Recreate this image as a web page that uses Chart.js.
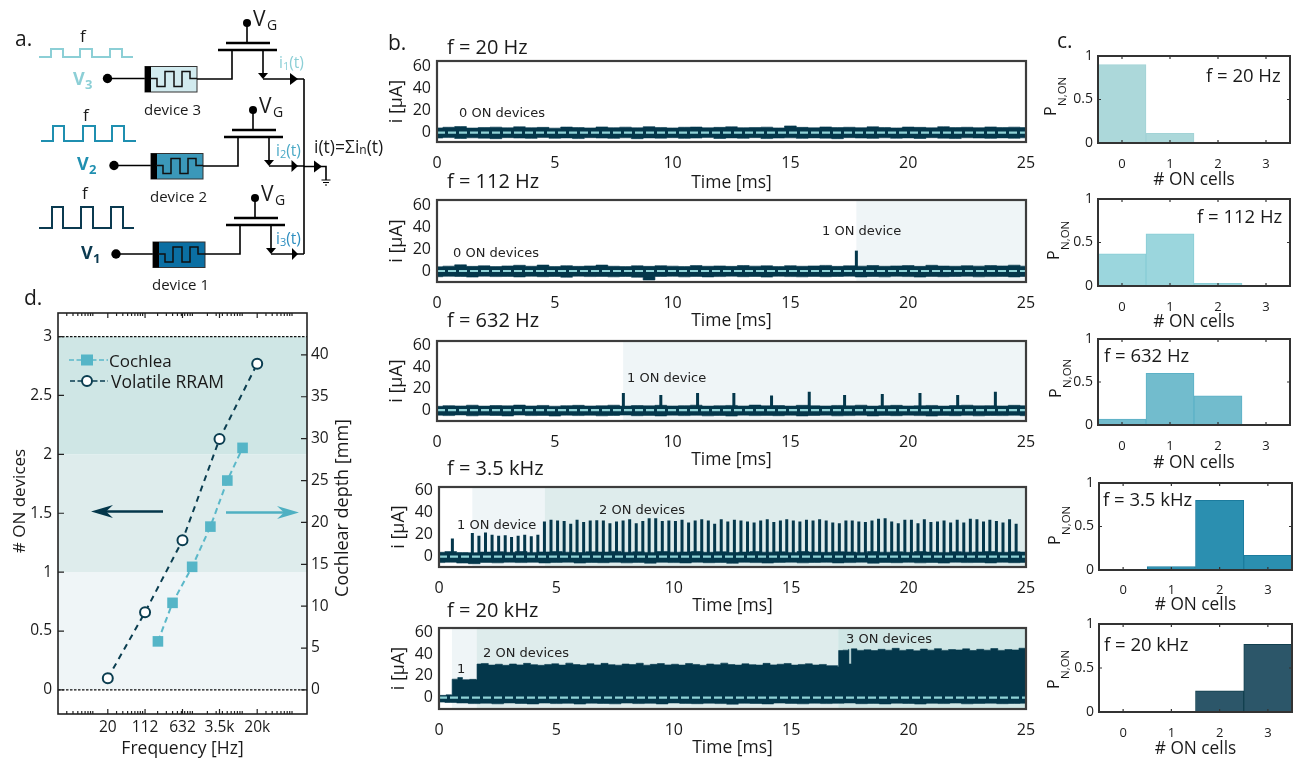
<!DOCTYPE html>
<html><head><meta charset="utf-8">
<script src="https://cdn.jsdelivr.net/npm/chart.js@4"></script>
<style>
html,body{margin:0;padding:0;background:#fff;overflow:hidden}
#page{position:relative;width:1296px;height:758px;overflow:hidden}
canvas{position:absolute}
svg{position:absolute;left:0;top:0;pointer-events:none}
svg text{font-family:"Open Sans",sans-serif;fill:#1a1a1a;dominant-baseline:central}
svg text.note{font-family:"DejaVu Sans",sans-serif;font-size:13px;fill:#222}
</style></head><body><div id="page"><svg id="ov" width="1296" height="758"></svg></div>
<script>
/* ---------- panel b: current traces ---------- */
const noiseTimes=[0,0.5,1,1.5,2,2.5,3,3.5,4,4.5,5,5.5,6,6.5,7,7.5,8,8.5,9,9.5,10,10.5,11,11.5,12,12.5,13,13.5,14,14.5,15,15.5,16,16.5,17,17.5,18,18.5,19,19.5,20,20.5,21,21.5,22,22.5,23,23.5,24,24.5,25];
const up20=[4.2,4.8,5.4,4.1,4.6,4.9,4.3,5.2,4.4,4.7,4.0,5.0,4.5,4.2,5.1,4.4,4.9,4.3,5.3,4.6,4.2,4.8,5.0,4.3,4.7,5.2,4.4,4.6,4.9,4.2,6.0,4.7,4.3,5.1,4.5,4.8,4.4,5.2,4.6,4.2,5.0,4.7,4.3,5.3,4.5,4.8,4.4,5.1,4.6,4.9,4.5];
const lo20=[-5.0,-4.6,-5.4,-4.8,-5.1,-5.6,-4.7,-5.0,-5.3,-4.6,-5.2,-4.9,-5.5,-4.7,-5.0,-5.3,-4.8,-5.6,-4.9,-5.1,-4.7,-5.3,-5.0,-4.6,-5.4,-4.9,-5.2,-4.7,-5.5,-5.0,-4.8,-5.3,-4.9,-5.1,-5.6,-4.7,-5.0,-5.3,-4.8,-5.2,-4.9,-5.4,-4.7,-5.1,-5.5,-4.8,-5.0,-5.3,-4.9,-5.2,-4.8];
const up112=[3.8,4.4,5.6,4.2,4.7,4.0,4.6,5.2,4.3,5.4,4.1,4.8,4.2,4.6,5.4,4.3,4.0,4.7,4.2,4.8,4.4,4.1,4.9,4.3,4.6,4.2,5.0,4.4,4.7,4.1,4.8,4.3,4.6,5.1,4.2,4.7,4.4,5.0,4.3,4.6,4.9,4.2,5.2,4.5,4.3,4.8,4.4,5.0,4.6,5.3,4.4];
const lo112=[-5.2,-4.8,-5.0,-5.5,-4.7,-5.1,-4.9,-5.4,-4.8,-5.2,-5.0,-5.6,-4.7,-5.1,-4.9,-5.3,-5.0,-5.6,-8.2,-5.0,-4.8,-5.3,-4.9,-5.4,-5.1,-4.7,-5.2,-5.0,-5.5,-4.8,-5.1,-5.3,-4.9,-5.2,-5.0,-4.7,-5.4,-5.0,-5.3,-4.8,-5.1,-5.5,-4.9,-5.2,-5.0,-4.8,-5.3,-5.1,-4.9,-5.4,-5.0];
const up632=[3.6,4.2,3.9,4.6,3.8,4.3,4.0,4.7,3.9,4.4,3.7,4.2,4.5,3.9,4.1,4.6,3.8,4.3,4.0,4.5,3.9,4.2,4.6,3.8,4.1,4.4,3.9,4.7,4.0,4.3,3.8,4.5,4.1,3.9,4.4,4.0,4.6,3.8,4.2,4.5,3.9,4.1,4.4,3.8,4.3,4.6,4.0,4.2,3.9,4.5,4.1];
const lo632=[-4.6,-5.0,-4.4,-5.2,-4.7,-4.9,-5.3,-4.5,-5.0,-4.8,-5.4,-4.6,-5.0,-4.7,-5.2,-4.9,-4.5,-5.1,-4.8,-5.3,-4.6,-5.0,-4.7,-5.2,-4.9,-5.4,-4.6,-5.0,-4.8,-5.1,-4.7,-5.3,-4.9,-4.6,-5.2,-5.0,-4.7,-5.3,-4.8,-5.1,-4.6,-5.0,-5.4,-4.8,-5.1,-4.7,-5.2,-4.9,-5.0,-4.7,-5.1];
const up35=[4.0,4.6,3.8,3.6,4.2,4.5,4.0,4.7,3.9,4.3,4.6,4.1,3.8,4.5,4.2,4.8,4.0,4.4,3.9,4.6,4.1,4.3,4.7,4.0,4.5,3.8,4.2,4.6,4.1,4.4,3.9,4.7,4.2,4.0,4.5,4.3,3.9,4.6,4.1,4.4,4.0,4.7,4.2,3.9,4.5,4.1,4.3,4.6,4.0,4.4,4.2];
const lo35=[-5.4,-5.0,-5.8,-6.4,-5.2,-5.6,-5.0,-5.4,-5.1,-5.7,-5.2,-5.0,-5.8,-5.3,-5.5,-5.0,-5.6,-5.2,-5.9,-5.1,-5.4,-5.7,-5.0,-5.5,-5.3,-6.0,-5.1,-5.4,-5.8,-5.2,-5.0,-5.6,-5.3,-5.1,-5.7,-5.4,-5.0,-5.9,-5.2,-5.5,-5.1,-5.6,-5.3,-5.8,-5.0,-5.4,-5.2,-5.7,-5.1,-5.5,-5.2];
const lo20k=[-4.2,-4.6,-5.0,-5.6,-5.2,-5.8,-5.0,-5.5,-5.9,-5.1,-5.6,-5.3,-6.0,-5.2,-5.5,-5.8,-5.1,-5.6,-5.3,-5.9,-5.0,-5.4,-5.7,-5.2,-5.6,-6.1,-5.3,-5.5,-5.9,-5.1,-5.4,-5.8,-5.2,-5.6,-5.3,-5.0,-5.7,-5.4,-5.9,-5.2,-5.5,-6.0,-5.3,-5.6,-5.1,-5.8,-5.4,-5.2,-5.7,-5.5,-5.3];
const envTimes20k=[0,0.3,0.54,0.56,0.8,1.0,1.3,1.58,1.62,1.8,2.1,2.4,2.7,3.0,3.3,3.6,3.9,4.2,4.5,4.8,5.1,5.4,5.7,6.0,6.3,6.6,6.9,7.2,7.5,7.8,8.1,8.4,8.7,9.0,9.3,9.6,9.9,10.2,10.5,10.8,11.1,11.4,11.7,12.0,12.3,12.6,12.9,13.2,13.5,13.8,14.1,14.4,14.7,15.0,15.3,15.6,15.9,16.2,16.5,16.98,17.02,17.2,17.44,17.46,17.54,17.56,17.8,18.1,18.4,18.7,19.0,19.3,19.6,19.9,20.2,20.5,20.8,21.1,21.4,21.7,22.0,22.3,22.6,22.9,23.2,23.5,23.8,24.1,24.4,24.7,25];
const env20k=[2,2.5,2,17,18.5,16.5,16.8,16.5,31,31.5,30,30.8,29.8,31,30.2,31.6,30.4,29.8,30.6,31.2,30,31.8,30.5,30,31.3,30.2,31.6,30.4,29.9,31,30.5,31.7,29.9,30.7,31.4,30.2,30.8,30,31.5,30.6,29.8,31,30.3,31.8,30.5,30,31.2,30.4,30,31.6,30.2,30.8,31.5,30,30.6,31.2,30.1,30.6,29.5,28.5,43.5,43.8,44.5,31,31,45,43.6,44.2,43.4,44.6,43.8,45.5,43.6,44.4,43.2,44.8,43.8,45.2,43.6,44.4,44,45,43.5,44.6,43.8,45.3,43.6,44.4,44,45.6,44];
const spikes112T=[17.8], spikes112H=[18.5];
const spikes632T=[7.91,9.5,11.06,12.6,14.2,15.8,17.3,18.9,20.5,22.1,23.7];
const spikes632H=[16,14,16,16,13.5,17,14,15,16,14,17];
const spikes35T=[0.57,1.42,1.70,1.98,2.26,2.54,2.82,3.09,3.37,3.65,3.93,4.21,4.49,4.77,5.05,5.33,5.61,5.88,6.16,6.44,6.72,7.00,7.28,7.56,7.84,8.12,8.40,8.68,8.95,9.23,9.51,9.79,10.07,10.35,10.63,10.91,11.19,11.47,11.74,12.02,12.30,12.58,12.86,13.14,13.42,13.70,13.98,14.26,14.54,14.81,15.09,15.37,15.65,15.93,16.21,16.49,16.77,17.05,17.33,17.60,17.88,18.16,18.44,18.72,19.00,19.28,19.56,19.84,20.12,20.40,20.67,20.95,21.23,21.51,21.79,22.07,22.35,22.63,22.91,23.19,23.46,23.74,24.02,24.30,24.58];
const spikes35H=[16.5,21.5,19,22,20,19,19.5,18,19,20,18.5,20,32,33.5,33,32.5,30,33.5,31.5,33,33.2,33,30.5,32,33,34,30.5,32.5,35,35,32.5,33,32.5,33.5,31,33,34,33,30,34,32,33.5,33,32,31,33,34,31.5,33,34,33,32,33.5,33,34,33,31,30.5,33,33,32,31.5,33,34.5,35,32,30.5,33.5,33.5,30.5,34,31.5,32,33,31,33.5,31,34.5,34,32,33.5,32.5,31,34,30];
const timeTicks=[0,5,10,15,20,25];
const currentTicks=[0,20,40,60];
/* ---------- panel c: ON cell histograms ---------- */
const cellLabels=['0','1','2','3'];
const prob20=[0.9,0.11,0,0];
const prob112=[0.37,0.6,0.03,0];
const prob632=[0.07,0.6,0.34,0];
const prob35=[0,0.04,0.8,0.17];
const prob20k=[0,0,0.24,0.77];
/* ---------- panel d: frequency mapping ---------- */
const rramFreq=[20,112,632,3500,20000];
const rramOn=[0.1,0.66,1.27,2.13,2.77];
const cochFreq=[203,399,988,2296,5023,10160];
const cochDepth=[5.8,10.4,14.7,19.5,25,28.9];
const freqTicks=[20,112,632,3500,20000];
const freqNames=['20','112','632','3.5k','20k'];
const freqMinor=[3,4,5,6,7,8,9,10,30,40,50,60,70,80,90,100,200,300,400,500,600,700,800,900,1000,2000,3000,4000,5000,6000,7000,8000,9000,10000,30000,40000,50000,60000,70000,80000,90000,100000];
const onTicks=[0,0.5,1,1.5,2,2.5,3];
const depthTicks=[0,5,10,15,20,25,30,35,40];

const DARK='#04374b', DASH='#8fd2d6', C1='#eff5f7', C2='#deecec', C3='#cfe6e5';
const FONT='"Open Sans",sans-serif';
const page=document.getElementById('page');

function deco(o){return {id:'deco',
  beforeDatasetsDraw(c){const a=c.chartArea,x=c.ctx;x.save();
    (o.bands||[]).forEach(b=>{x.fillStyle=b.color;
      if(b.axis==='x'){const p=c.scales.x.getPixelForValue(b.from),q=c.scales.x.getPixelForValue(b.to);x.fillRect(p,a.top,q-p,a.height);}
      else{const p=c.scales.y.getPixelForValue(b.to),q=c.scales.y.getPixelForValue(b.from);x.fillRect(a.left,p,a.width,q-p);}
    });x.restore();},
  afterDatasetsDraw(c){const a=c.chartArea,x=c.ctx;x.save();
    x.strokeStyle=o.frame||'#3a3a3a';x.lineWidth=o.frameW||2;
    (o.ticks||[]).forEach(t=>{const s=c.scales[t.scale];x.lineWidth=1.2;x.beginPath();
      t.values.forEach(v=>{const p=s.getPixelForValue(v);
        t.sides.forEach(d=>{
          if(d==='top'){x.moveTo(p,a.top);x.lineTo(p,a.top+t.len);}
          if(d==='bottom'){x.moveTo(p,a.bottom);x.lineTo(p,a.bottom-t.len);}
          if(d==='left'){x.moveTo(a.left,p);x.lineTo(a.left+t.len,p);}
          if(d==='right'){x.moveTo(a.right,p);x.lineTo(a.right-t.len,p);}
        });});x.stroke();});
    x.lineWidth=o.frameW||2;x.strokeRect(a.left,a.top,a.width,a.height);x.restore();}
};}

function mk(plot,ext,config){
  const cv=document.createElement('canvas');
  const W=plot.r-plot.l+ext.l+ext.r,H=plot.b-plot.t+ext.t+ext.b;
  cv.width=W;cv.height=H;cv.style.left=(plot.l-ext.l)+'px';cv.style.top=(plot.t-ext.t)+'px';
  cv.style.width=W+'px';cv.style.height=H+'px';
  page.insertBefore(cv,page.firstChild);
  config.options=Object.assign({responsive:false,animation:false,devicePixelRatio:1},config.options);
  return new Chart(cv,config);
}
const pts=(xs,ys)=>xs.map((v,i)=>({x:v,y:ys[i]}));
function spikePts(ts,hs){const out=[];ts.forEach((t,i)=>{out.push({x:t,y:0},{x:t,y:hs[i]},{x:t,y:null});});return out;}

function trace(plot,o){
  const ds=[
    {order:3,data:pts(o.envT||noiseTimes,o.up),borderColor:DARK,borderWidth:0.6,backgroundColor:DARK,fill:{value:-1},pointRadius:0,stepped:o.envT?true:'middle'},
    {order:3,data:pts(noiseTimes,o.lo),borderColor:DARK,borderWidth:0.6,backgroundColor:DARK,fill:{value:1},pointRadius:0,stepped:'middle'}
  ];
  if(o.spT)ds.push({order:2,data:spikePts(o.spT,o.spH),borderColor:DARK,borderWidth:3,pointRadius:0,fill:false,spanGaps:false});
  ds.push({order:1,data:[{x:0,y:0},{x:25,y:0}],borderColor:DASH,borderWidth:2.2,borderDash:[8,3],pointRadius:0,fill:false});
  const ext={l:52,r:32,t:22,b:plot.time-plot.b+11};
  mk(plot,ext,{type:'line',data:{datasets:ds},
    plugins:[deco({bands:o.bands||[],frame:'#3d3d3d',frameW:2.2})],
    options:{layout:{padding:{top:ext.t,right:ext.r}},
      plugins:{legend:{display:false},tooltip:{enabled:false}},
      scales:{
        x:{type:'linear',min:0,max:25,grid:{display:false,drawTicks:false},border:{display:false},
          afterBuildTicks(s){s.ticks=timeTicks.map(v=>({value:v}));},
          afterFit(s){s.height=ext.b;},
          ticks:{autoSkip:false,maxRotation:0,padding:6+6,color:'#1a1a1a',font:{family:FONT,size:16}},
          title:{display:true,text:'Time [ms]',color:'#1a1a1a',font:{family:FONT,size:17.5},padding:0}},
        y:{type:'linear',min:o.yr[0],max:o.yr[1],grid:{display:false,drawTicks:false},border:{display:false},
          afterBuildTicks(s){s.ticks=currentTicks.map(v=>({value:v}));},
          afterFit(s){s.width=ext.l;},
          ticks:{autoSkip:false,padding:6,color:'#1a1a1a',font:{family:FONT,size:16}},
          title:{display:true,text:'i [\u03bcA]',color:'#1a1a1a',font:{family:FONT,size:18},padding:{top:1,bottom:0}}}
      }}});
}
const bL=437,bR=1026;
trace({l:bL,r:bR,t:61,b:142,time:183},{yr:[-8.6,65],up:up20,lo:lo20});
trace({l:bL,r:bR,t:200,b:282,time:321},{yr:[-10,64.5],up:up112,lo:lo112,spT:spikes112T,spH:spikes112H,bands:[{axis:'x',from:17.8,to:25,color:C1}]});
trace({l:bL,r:bR,t:341,b:421,time:460},{yr:[-10,64],up:up632,lo:lo632,spT:spikes632T,spH:spikes632H,bands:[{axis:'x',from:7.9,to:25,color:C1}]});
trace({l:439,r:bR,t:487,b:567,time:606},{yr:[-9.4,63.4],up:up35,lo:lo35,spT:spikes35T,spH:spikes35H,bands:[{axis:'x',from:1.42,to:4.5,color:C1},{axis:'x',from:4.5,to:25,color:C2}]});
trace({l:439,r:bR,t:628,b:709,time:748},{yr:[-10.6,64.3],envT:envTimes20k,up:env20k,lo:lo20k,bands:[{axis:'x',from:0.55,to:1.6,color:C1},{axis:'x',from:1.6,to:17,color:C2},{axis:'x',from:17,to:25,color:C3}]});

function hist(plot,vals,fill,edge,tickY,titleY){
  const ext={l:40,r:5,t:20,b:titleY-plot.b+11};
  mk(plot,ext,{type:'bar',data:{labels:cellLabels,datasets:[{data:vals,backgroundColor:fill,borderColor:edge,borderWidth:1,barPercentage:1,categoryPercentage:1}]},
    plugins:[deco({frame:'#333',frameW:2,ticks:[{scale:'x',values:[0,1,2,3],len:3,sides:['top','bottom']},{scale:'y',values:[0.5],len:3,sides:['left','right']}]})],
    options:{layout:{padding:{top:ext.t,right:ext.r}},
      plugins:{legend:{display:false},tooltip:{enabled:false}},
      scales:{
        x:{type:'category',grid:{display:false,drawTicks:false},border:{display:false},afterFit(s){s.height=ext.b;},
          ticks:{padding:tickY-plot.b-1,color:'#1a1a1a',maxRotation:0,font:{family:FONT,size:13}},
          title:{display:true,text:'# ON cells',color:'#1a1a1a',font:{family:FONT,size:17.3},padding:0}},
        y:{type:'linear',min:0,max:1,grid:{display:false,drawTicks:false},border:{display:false},afterFit(s){s.width=ext.l;},
          afterBuildTicks(s){s.ticks=[0,0.5,1].map(v=>({value:v}));},
          ticks:{padding:5,color:'#1a1a1a',font:{family:FONT,size:14},callback:v=>String(v)}}
      }}});
}
hist({l:1098,r:1290,t:56,b:143},prob20,'#acd8da','#a2d3d6',157,179);
hist({l:1098,r:1290,t:199,b:286},prob112,'#9bd6dd','#88cdd5',300,321);
hist({l:1098,r:1290,t:339,b:425},prob632,'#72bccd','#5cb1c6',439,462);
hist({l:1099,r:1292,t:483,b:570},prob35,'#2b8fb0','#1c7c9e',583,604);
hist({l:1099,r:1292,t:624,b:712},prob20k,'#2c5669','#12404f',726,748);

(function(){
  const plot={l:58,r:307,t:313,b:714};
  const ext={l:58,r:40,t:22,b:46};
  mk(plot,ext,{type:'line',data:{datasets:[
      {order:4,data:[{x:2,y:0},{x:200000,y:0}],xAxisID:'x',yAxisID:'y',borderColor:'#111',borderWidth:1.2,borderDash:[2.5,1.5],pointRadius:0},
      {order:4,data:[{x:2,y:3},{x:200000,y:3}],xAxisID:'x',yAxisID:'y',borderColor:'#111',borderWidth:1.2,borderDash:[2.5,1.5],pointRadius:0},
      {order:2,label:'Cochlea',data:pts(cochFreq,cochDepth),xAxisID:'x',yAxisID:'y2',borderColor:'#5bb8c9',borderWidth:2,borderDash:[6,4],pointStyle:'rect',pointRadius:7.5,pointBackgroundColor:'#55b5c7',pointBorderColor:'#55b5c7',pointBorderWidth:0},
      {order:1,label:'Volatile RRAM',data:pts(rramFreq,rramOn),xAxisID:'x',yAxisID:'y',borderColor:'#0a3d50',borderWidth:2,borderDash:[6,5],pointStyle:'circle',pointRadius:5,pointBackgroundColor:'#fff',pointBorderColor:'#0a3d50',pointBorderWidth:2}
    ]},
    plugins:[deco({frame:'#222',frameW:1.6,bands:[{axis:'y',from:0,to:1,color:C1},{axis:'y',from:1,to:2,color:C2},{axis:'y',from:2,to:3,color:C3}],
      ticks:[{scale:'x',values:freqTicks,len:5,sides:['top','bottom']},{scale:'x',values:freqMinor,len:3,sides:['top','bottom']},
             {scale:'y',values:onTicks,len:6,sides:['left']},{scale:'y2',values:depthTicks,len:6,sides:['right']}]})],
    options:{layout:{padding:{top:ext.t}},
      plugins:{legend:{display:false},tooltip:{enabled:false}},
      scales:{
        x:{type:'logarithmic',min:2,max:200000,grid:{display:false,drawTicks:false},border:{display:false},
          afterBuildTicks(s){s.ticks=freqTicks.map(v=>({value:v}));},afterFit(s){s.height=ext.b;},
          ticks:{autoSkip:false,maxRotation:0,padding:4,color:'#1a1a1a',font:{family:FONT,size:15.5},callback:(v,i)=>freqNames[i]},
          title:{display:true,text:'Frequency [Hz]',color:'#1a1a1a',font:{family:FONT,size:17.5},padding:0}},
        y:{type:'linear',position:'left',min:-0.204,max:3.2,grid:{display:false,drawTicks:false},border:{display:false},
          afterBuildTicks(s){s.ticks=onTicks.map(v=>({value:v}));},afterFit(s){s.width=ext.l;},
          ticks:{autoSkip:false,padding:6,color:'#1a1a1a',font:{family:FONT,size:15.5},callback:v=>String(v)}},
        y2:{type:'linear',position:'right',min:-2.87,max:45,grid:{display:false,drawTicks:false},border:{display:false},
          afterBuildTicks(s){s.ticks=depthTicks.map(v=>({value:v}));},afterFit(s){s.width=ext.r;},
          ticks:{autoSkip:false,padding:4,color:'#1a1a1a',font:{family:FONT,size:15.5},callback:v=>String(v)}}
      }}});
})();

/* ---------- text and schematic overlay ---------- */
function T(x,y,s,size,extra){return `<text x="${x}" y="${y}" font-size="${size}" ${extra||''}>${s}</text>`;}
function note(x,y,s){return `<text class="note" x="${x}" y="${y}">${s}</text>`;}
let s='';
[['a.',15,38],['b.',388,42],['c.',1057,40],['d.',24,297]].forEach(a=>s+=T(a[1],a[2],a[0],21));
[['f = 20 Hz',447,46],['f = 112 Hz',447,180],['f = 632 Hz',447,319],['f = 3.5 kHz',447,467],['f = 20 kHz',447,609]].forEach(a=>s+=T(a[1],a[2],a[0],20));
s+=note(459,112,'0 ON devices')+note(453,252,'0 ON devices')+note(822,230,'1 ON device')+note(627,377,'1 ON device')
  +note(457,524,'1 ON device')+note(599,509,'2 ON devices')+note(457,668,'1')+note(483,652,'2 ON devices')+note(846,638,'3 ON devices');
[['f = 20 Hz',1206,74],['f = 112 Hz',1197,215],['f = 632 Hz',1104,354],['f = 3.5 kHz',1103,498],['f = 20 kHz',1104,643]].forEach(a=>s+=T(a[1],a[2],a[0],18.5));
[[1056,116],[1059,260],[1061,398],[1060,545],[1059,689]].forEach(p=>{
  s+=`<g transform="translate(${p[0]},${p[1]}) rotate(-90)"><text x="0" y="-6" font-size="16">P</text><text x="10" y="5" font-size="11.5">N,ON</text></g>`;});
s+=`<text transform="translate(18,501) rotate(-90)" text-anchor="middle" font-size="17">${'# ON devices'}</text>`;
s+=`<text transform="translate(341,508) rotate(-90)" text-anchor="middle" font-size="18">Cochlear depth [mm]</text>`;
/* legend and arrows in d */
s+=`<line x1="69" y1="360" x2="108" y2="360" stroke="#5bb8c9" stroke-width="1.6" stroke-dasharray="5 2.5"/><rect x="81" y="354.5" width="12" height="11" fill="#55b5c7"/>`;
s+=T(109,360,'Cochlea',17);
s+=`<line x1="70" y1="381" x2="108" y2="381" stroke="#0a3d50" stroke-width="1.6" stroke-dasharray="5 2.5"/><circle cx="87" cy="381" r="5" fill="#fff" stroke="#0a3d50" stroke-width="2"/>`;
s+=T(111,381,'Volatile RRAM',17.5);
s+=`<path d="M163 511.5H100" stroke="#04374b" stroke-width="2.5"/><path d="M91 511.5L113 505L106 511.5L113 518Z" fill="#04374b"/>`;
s+=`<path d="M226 512.5H288" stroke="#4fb0c2" stroke-width="2.5"/><path d="M299 512.5L277 506L284 512.5L277 519Z" fill="#4fb0c2"/>`;
/* waveforms */
const wave=(d,c)=>`<path d="${d}" fill="none" stroke="${c}" stroke-width="2"/>`;
s+=wave('M39 57H51V49H63V57H80V49H92V57H110V49H122V57H133','#8ccfd6');
s+=wave('M41 141H53V126H64V141H83V126H95V141H112V126H124V141H136','#1f8fb0');
s+=wave('M39 228H52V207H63V228H81V207H93V228H111V207H123V228H134','#0b3a50');
s+=T(80,35,'f',17)+T(83,114,'f',17)+T(82,192,'f',17);
function vlab(x,y,n,c){return `<text x="${x}" y="${y}" font-size="18" font-weight="700" style="fill:${c}">V</text><text x="${x+12}" y="${y+6}" font-size="13" font-weight="700" style="fill:${c}">${n}</text>`;}
s+=vlab(73,78,'3','#8ccfd6')+vlab(77,163,'2','#1f8fb0')+vlab(81,252,'1','#0b3a50');
function device(dot,x,y,fill,label){
  let g=`<circle cx="${dot}" cy="${y+12}" r="4.7" fill="#000"/><line x1="${dot}" y1="${y+12}" x2="${x}" y2="${y+12}" stroke="#000" stroke-width="1.6"/>`;
  g+=`<rect x="${x}" y="${y}" width="52" height="25.5" fill="${fill}" stroke="#333" stroke-width="1"/><rect x="${x}" y="${y}" width="6" height="25.5" fill="#000"/>`;
  g+=`<path d="M${x+5} ${y+12}H${x+12}V${y+20}H${x+20}V${y+5}H${x+29}V${y+20}H${x+37}V${y+5}H${x+45}V${y+12}H${x+52}" fill="none" stroke="#111" stroke-width="1.5"/>`;
  g+=T(x-1,y+42,label,15);return g;}
s+=device(107.5,145,66.5,'#d2ebef','device 3')+device(114,151,153.5,'#3b98b9','device 2')+device(116,153,242,'#0b6fa3','device 1');
function fet(dx,y0,devR){ // y0 = output line y
  const g=y0-56;
  let o=`<circle cx="${247+dx}" cy="${g}" r="4" fill="#000"/><line x1="${247+dx}" y1="${g}" x2="${247+dx}" y2="${g+20}" stroke="#000" stroke-width="1.6"/>`;
  o+=`<line x1="${226+dx}" y1="${g+20}" x2="${270+dx}" y2="${g+20}" stroke="#000" stroke-width="2.6"/><line x1="${218+dx}" y1="${g+27}" x2="${277+dx}" y2="${g+27}" stroke="#000" stroke-width="2.6"/>`;
  o+=`<path d="M${232+dx} ${g+27}V${y0}H${devR}" fill="none" stroke="#000" stroke-width="1.6"/>`;
  o+=`<path d="M${263+dx} ${g+27}V${y0-3}" stroke="#000" stroke-width="1.6"/><path d="M${258+dx} ${y0-6}H${268+dx}L${263+dx} ${y0}Z" fill="#000"/>`;
  o+=`<line x1="${263+dx}" y1="${y0}" x2="304" y2="${y0}" stroke="#000" stroke-width="1.6"/><path d="M${290+(dx?dx/4:0)} ${y0-6}L${298} ${y0}L${290+(dx?dx/4:0)} ${y0+6}Z" fill="#000"/>`;
  o+=`<text x="${253+dx}" y="${g-5}" font-size="21">V</text><text x="${267+dx}" y="${g+1}" font-size="14">G</text>`;
  return o;}
s+=fet(0,79,197)+fet(6,166,203)+fet(8,254,205);
s+=`<line x1="304" y1="79" x2="304" y2="254" stroke="#000" stroke-width="1.6"/><path d="M304 166.5H326V180" fill="none" stroke="#000" stroke-width="1.6"/><path d="M314 160.5L322 166.5L314 172.5Z" fill="#000"/>`;
s+=`<path d="M321.5 180H330.5M323 182.5H329M325 185H327" stroke="#000" stroke-width="1"/>`;
function cur(x,y,n,c){return `<text x="${x}" y="${y}" font-size="15.5" style="fill:${c}">i<tspan dy="3" font-size="11">${n}</tspan><tspan dy="-3">(t)</tspan></text>`;}
s+=cur(279,62,'1','#8ccfd6')+cur(276,150,'2','#4ba9c6')+cur(276,238,'3','#2f8fc0');
s+=`<text x="314" y="146" font-size="17.5">i(t)=\u03a3i<tspan dy="3" font-size="12">n</tspan><tspan dy="-3">(t)</tspan></text>`;
document.getElementById('ov').innerHTML=s;
</script></body></html>
